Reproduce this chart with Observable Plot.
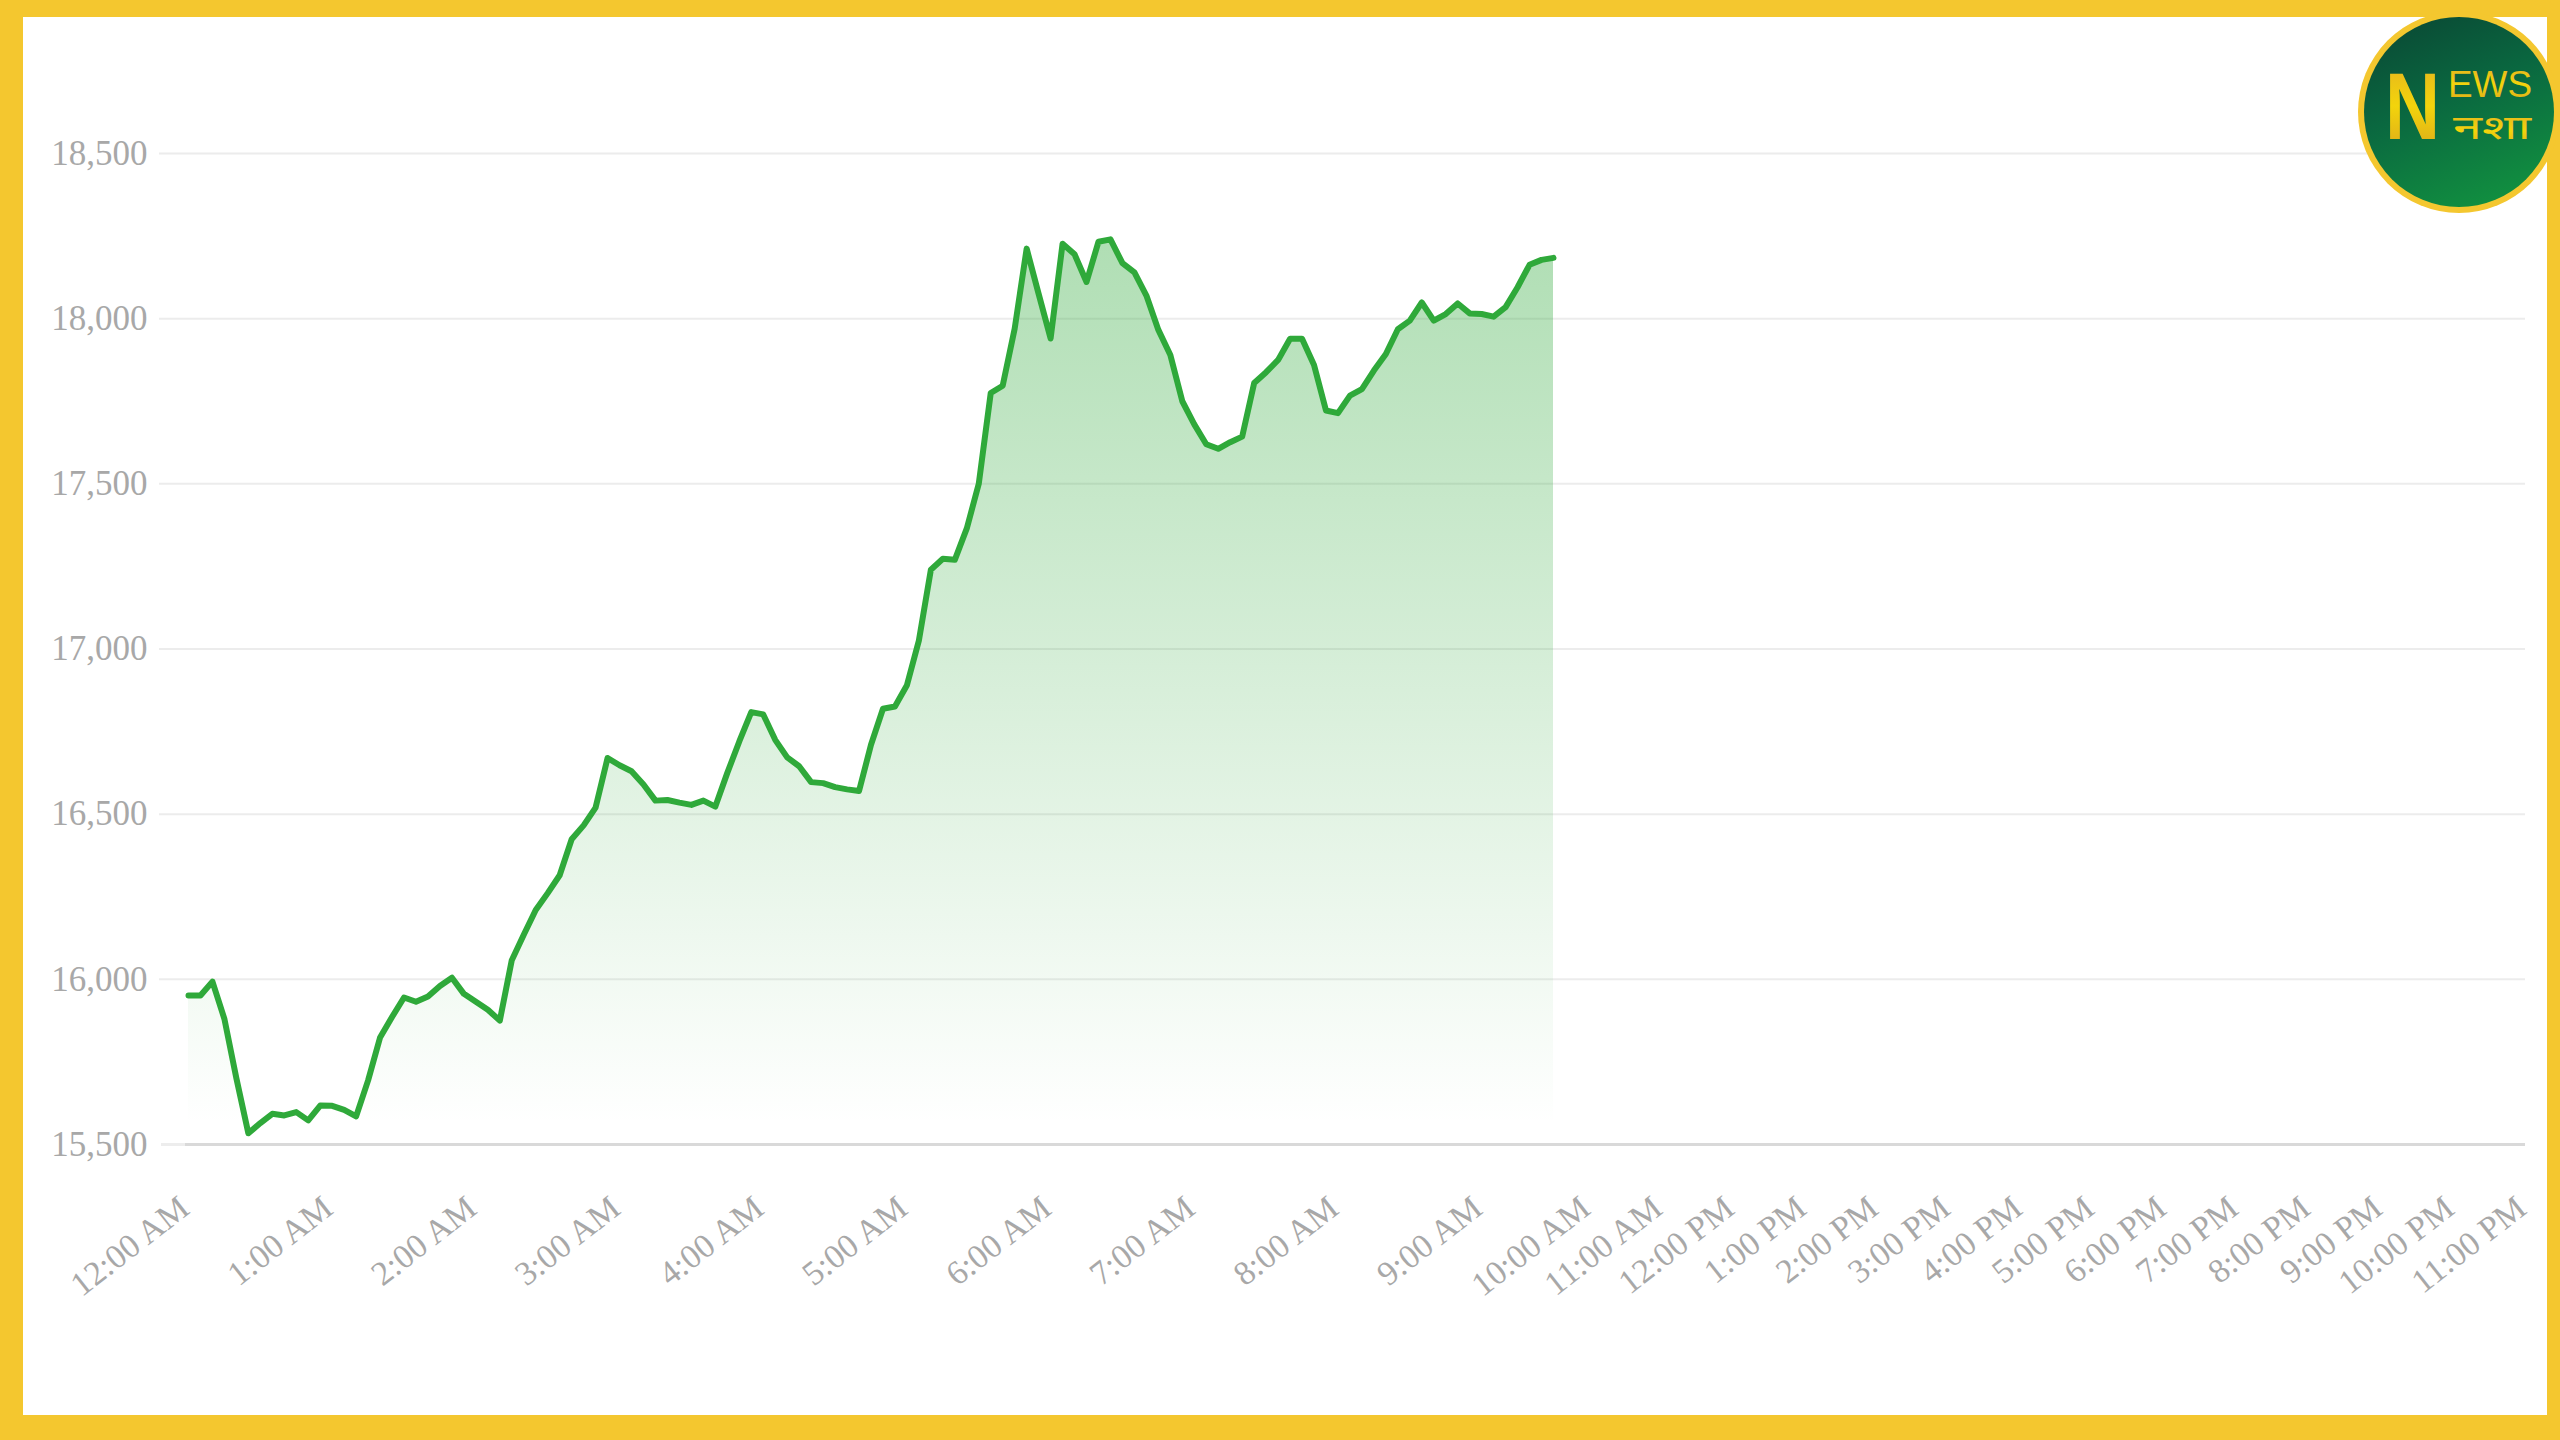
<!DOCTYPE html>
<html>
<head>
<meta charset="utf-8">
<script src="https://cdn.jsdelivr.net/npm/d3@7"></script>
<script src="https://cdn.jsdelivr.net/npm/@observablehq/plot@0.6"></script>
<style>
  html, body { margin: 0; padding: 0; width: 2560px; height: 1440px; overflow: hidden; background: #F4C72F; }
  #panel { position: absolute; left: 23px; top: 17px; width: 2524px; height: 1398px; background: #ffffff; }
  #chart { position: absolute; left: 0; top: 0; }
  #logo { position: absolute; left: 2357px; top: 10px; }
</style>
</head>
<body>
<div id="panel"></div>
<div id="chart"></div>
<svg id="logo" width="204" height="204" viewBox="0 0 204 204">
  <defs>
    <linearGradient id="logoGreen" x1="0.2" y1="0" x2="0.6" y2="1">
      <stop offset="0" stop-color="#0a4a35"/>
      <stop offset="0.45" stop-color="#0a6840"/>
      <stop offset="1" stop-color="#118e40"/>
    </linearGradient>
    <linearGradient id="logoGold" x1="0" y1="0" x2="0" y2="1">
      <stop offset="0" stop-color="#e3b021"/>
      <stop offset="0.5" stop-color="#f3d40c"/>
      <stop offset="1" stop-color="#d9a41d"/>
    </linearGradient>
  </defs>
  <circle cx="102" cy="102" r="101" fill="#F4C72F"/>
  <circle cx="102" cy="102" r="95" fill="url(#logoGreen)"/>
  <text x="28" y="129" font-family="Liberation Sans, Arial, sans-serif" font-weight="bold" font-size="95" textLength="55" lengthAdjust="spacingAndGlyphs" fill="url(#logoGold)">N</text>
  <text x="91" y="87" font-family="Liberation Sans, Arial, sans-serif" font-size="37" textLength="84" lengthAdjust="spacingAndGlyphs" fill="url(#logoGold)">EWS</text>
  <text x="96" y="129" font-family="Noto Sans Devanagari, Lohit Devanagari, FreeSans, sans-serif" font-size="34" textLength="78" lengthAdjust="spacingAndGlyphs" fill="url(#logoGold)">नशा</text>
</svg>
<script>
// Intraday values, one every 5 minutes starting at 12:00 AM
const startMinute = 0;
const stepMinutes = 5;
const values = [
  15951, 15951, 15993, 15880, 15700, 15534, 15565, 15593, 15588, 15598,
  15573, 15618, 15617, 15605, 15585, 15694, 15824, 15886, 15945, 15932,
  15948, 15980, 16005, 15956, 15932, 15908, 15875, 16058, 16135, 16210,
  16261, 16315, 16424, 16466, 16520, 16670, 16648, 16630, 16590, 16541,
  16543, 16535, 16528, 16541, 16523, 16625, 16720, 16809, 16802, 16725,
  16672, 16645, 16597, 16594, 16582, 16575, 16570, 16710, 16819, 16826,
  16890, 17026, 17240, 17273, 17270, 17365, 17500, 17775, 17797, 17970,
  18212, 18075, 17940, 18227, 18195, 18111, 18233, 18240, 18168, 18140,
  18070, 17966, 17890, 17750, 17680, 17620, 17606, 17626, 17643, 17805,
  17838, 17875, 17939, 17939, 17860, 17722, 17714, 17767, 17787, 17843,
  17893, 17968, 17994, 18049, 17994, 18014, 18046, 18016, 18014, 18006,
  18035, 18095, 18163, 18178, 18184
];
const yTicks = [15500, 16000, 16500, 17000, 17500, 18000, 18500];
const hourLabels = [
  "12:00 AM", "1:00 AM", "2:00 AM", "3:00 AM", "4:00 AM", "5:00 AM",
  "6:00 AM", "7:00 AM", "8:00 AM", "9:00 AM", "10:00 AM", "11:00 AM",
  "12:00 PM", "1:00 PM", "2:00 PM", "3:00 PM", "4:00 PM", "5:00 PM",
  "6:00 PM", "7:00 PM", "8:00 PM", "9:00 PM", "10:00 PM", "11:00 PM"
];

const data = values.map((v, i) => ({ t: startMinute + i * stepMinutes, v }));
const xTicks = hourLabels.map((label, i) => ({ t: i * 60, label }));
const lastT = data[data.length - 1].t;
const baseValue = yTicks[0];

const lineColor = "#2fa93a";
const labelColor = "#a8a8a8";

const chart = Plot.plot({
  width: 2560,
  height: 1440,
  marginTop: 153,
  marginBottom: 296,
  marginLeft: 188,
  marginRight: 35,
  style: { background: "transparent", fontFamily: "Liberation Serif, Times New Roman, serif", overflow: "visible" },
  x: { type: "linear", domain: [0, lastT, 23 * 60], range: [188, 1553, 2525], axis: null },
  y: { domain: [yTicks[0], yTicks[yTicks.length - 1]], label: null },
  marks: [
    Plot.ruleY(yTicks.slice(1), { stroke: "#ececec", strokeWidth: 2, insetLeft: -29 }),
    Plot.ruleY([baseValue], { stroke: "#ededed", strokeWidth: 3, insetLeft: -27 }),
    Plot.ruleY([baseValue], { stroke: "#d9d9d9", strokeWidth: 3, insetLeft: -3 }),
    Plot.areaY(data, { x: "t", y1: () => baseValue, y2: "v", fill: "url(#areaGrad)" }),
    Plot.lineY(data, { x: "t", y: "v", stroke: lineColor, strokeWidth: 6, strokeLinejoin: "round", strokeLinecap: "round" }),
    Plot.axisY({ ticks: yTicks, tickFormat: d3.format(","), tickSize: 0, tickPadding: 41, fontSize: 35, fill: labelColor, label: null }),
    Plot.text(xTicks, {
      x: "t", text: "label", frameAnchor: "bottom",
      rotate: -38, textAnchor: "end", lineAnchor: "middle",
      dx: -4, dy: 59, fontSize: 34, fill: labelColor
    })
  ]
});

const svgns = "http://www.w3.org/2000/svg";
const defs = document.createElementNS(svgns, "defs");
defs.innerHTML = `<linearGradient id="areaGrad" gradientUnits="userSpaceOnUse" x1="0" y1="150" x2="0" y2="1125">
  <stop offset="0" stop-color="${lineColor}" stop-opacity="0.42"/>
  <stop offset="1" stop-color="${lineColor}" stop-opacity="0"/>
</linearGradient>`;
chart.insertBefore(defs, chart.firstChild);

document.getElementById("chart").appendChild(chart);
</script>
</body>
</html>
